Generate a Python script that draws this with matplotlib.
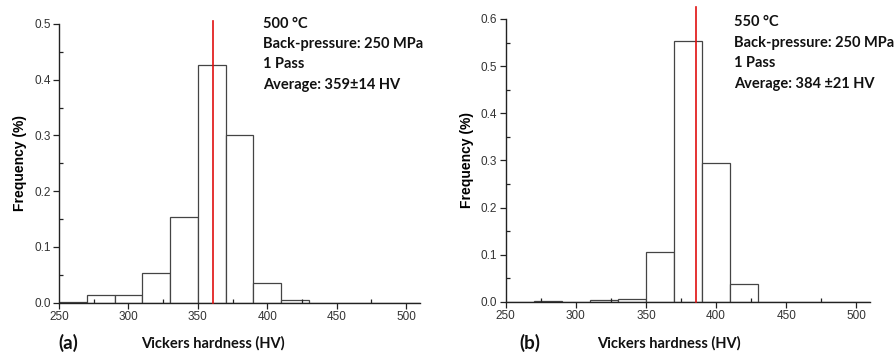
import matplotlib
matplotlib.use("Agg")
import matplotlib.pyplot as plt
from matplotlib.ticker import MultipleLocator

bin_edges = [250, 270, 290, 310, 330, 350, 370, 390, 410, 430, 450, 470, 490, 510]

# frequency per bin
freq_a = [0.001, 0.013, 0.013, 0.053, 0.153, 0.427, 0.300, 0.036, 0.005, 0.0, 0.0, 0.0, 0.0]
freq_b = [0.0, 0.001, 0.0, 0.004, 0.005, 0.105, 0.553, 0.294, 0.037, 0.0, 0.0, 0.0, 0.0]

mean_a = 361
mean_b = 386

notes_a = ["500 °C", "Back-pressure: 250 MPa", "1 Pass", "Average: 359±14 HV"]
notes_b = ["550 °C", "Back-pressure: 250 MPa", "1 Pass", "Average: 384 ±21 HV"]

panels = [
    dict(freq=freq_a, mean=mean_a, notes=notes_a, tag="(a)", ymax=0.5, red_top=0.505,
         rect=[0.0658, 0.1545, 0.403, 0.7785], text_x=263, text_y=[24, 44, 64, 85],
         label_x=213, tag_x=68),
    dict(freq=freq_b, mean=mean_b, notes=notes_b, tag="(b)", ymax=0.6, red_top=0.625,
         rect=[0.5644, 0.157, 0.407, 0.79], text_x=734, text_y=[22, 43, 63, 84],
         label_x=669, tag_x=530),
]

W, H = 896, 358
fig = plt.figure(figsize=(W / 100, H / 100), dpi=100)

tick_font = "Liberation Sans"
note_font = "Lato"

for p in panels:
    ax = fig.add_axes(p["rect"])
    lefts = bin_edges[:-1]
    widths = [b - a for a, b in zip(bin_edges[:-1], bin_edges[1:])]
    ax.bar(lefts, p["freq"], width=widths, align="edge", facecolor="white",
           edgecolor="#444444", linewidth=0.9)
    ax.plot([p["mean"], p["mean"]], [0, p["red_top"]], color="#e01010", lw=1.2,
            clip_on=False, zorder=5)

    ax.set_xlim(250, 510)
    ax.set_ylim(0, p["ymax"])
    ax.spines["top"].set_visible(False)
    ax.spines["right"].set_visible(False)
    for s in ("left", "bottom"):
        ax.spines[s].set_linewidth(1.0)
        ax.spines[s].set_color("#222222")

    ax.xaxis.set_major_locator(MultipleLocator(50))
    ax.xaxis.set_minor_locator(MultipleLocator(25))
    ax.yaxis.set_major_locator(MultipleLocator(0.1))
    ax.yaxis.set_minor_locator(MultipleLocator(0.05))
    ax.yaxis.set_major_formatter(matplotlib.ticker.FormatStrFormatter("%.1f"))
    ax.tick_params(which="major", direction="out", length=4, width=0.9,
                   labelsize=8.5, labelcolor="#333333", color="#222222", pad=2)
    ax.tick_params(which="minor", direction="in", length=3, width=0.9, color="#222222")
    for lab in ax.get_xticklabels() + ax.get_yticklabels():
        lab.set_family(tick_font)

    ax.set_ylabel("Frequency (%)", fontsize=10, fontweight="bold",
                  family=tick_font, labelpad=5)

    for line, y in zip(p["notes"], p["text_y"]):
        fig.text(p["text_x"] / W, 1 - y / H, line, fontsize=10.5, fontweight="bold",
                 family=note_font, va="center", ha="left", color="#111111")

    fig.text(p["label_x"] / W, 1 - 343 / H, "Vickers hardness (HV)", fontsize=10.5,
             fontweight="bold", family=note_font, ha="center", va="center", color="#111111")
    fig.text(p["tag_x"] / W, 1 - 343 / H, p["tag"], fontsize=13.5, fontweight="bold",
             family=note_font, ha="center", va="center", color="#111111")

fig.savefig("out.png", dpi=100)
